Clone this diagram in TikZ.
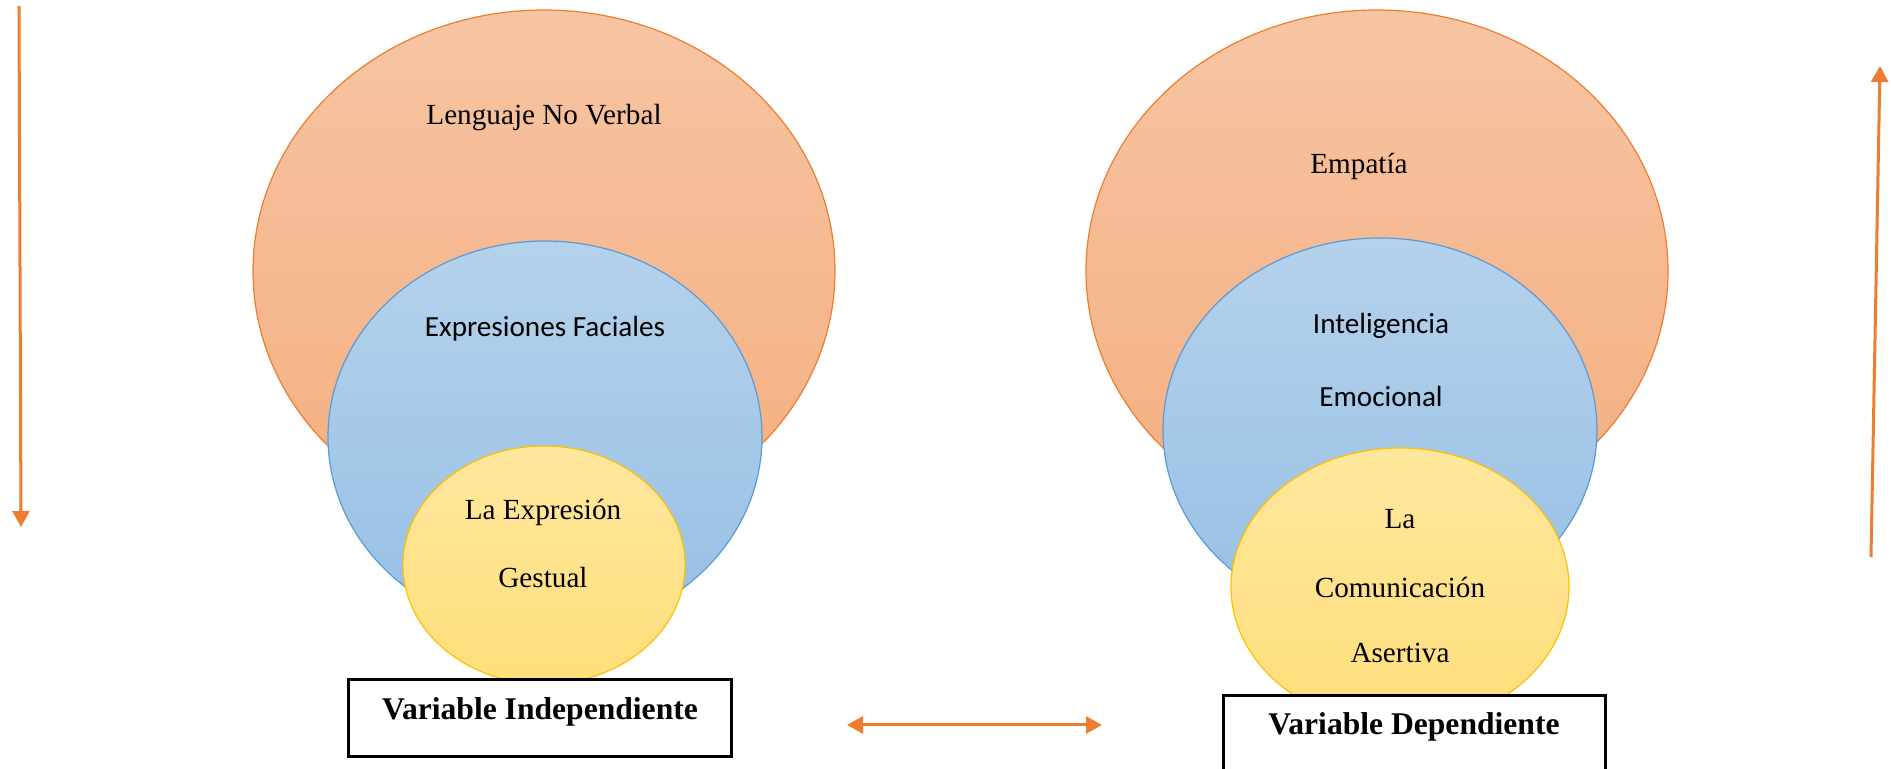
\documentclass[tikz,border=0pt]{standalone}
\usepackage{fontspec}
\setmainfont{Liberation Serif}
\newfontfamily\sansfam{Carlito}
\usetikzlibrary{shapes.geometric,arrows.meta}
\definecolor{naranja}{HTML}{ED7D31}
\definecolor{azul}{HTML}{5B9BD5}
\definecolor{oro}{HTML}{FFC000}
\tikzset{>={Triangle[length=8pt,width=8.5pt]}}

\begin{document}
\begin{tikzpicture}[x=0.5pt,y=-0.5pt,
    grande/.style={ellipse,inner sep=0pt,draw=naranja,line width=0.6pt,top color=naranja!45!white,bottom color=naranja!62!white},
    medio/.style={ellipse,inner sep=0pt,draw=azul,line width=0.6pt,top color=azul!45!white,bottom color=azul!64!white},
    chico/.style={ellipse,inner sep=0pt,draw=oro,line width=0.6pt,top color=oro!38!white,bottom color=oro!52!white},
    caja/.style={draw=black,line width=1.5pt,fill=white},
    texto/.style={font=\fontsize{14.6}{18}\selectfont},
    textosans/.style={font=\sansfam\fontsize{14.6}{18}\selectfont},
    titulo/.style={font=\bfseries\fontsize{15.8}{18}\selectfont},
    flecha/.style={->,draw=naranja,line width=1.5pt}]
    \useasboundingbox (0,0) rectangle (1891,769);
    % variable independiente
    \node[grande,minimum width=291pt,minimum height=261pt] (lnv) at (544,271) {};
    \node[medio,minimum width=217pt,minimum height=196pt] (ef) at (545,437) {};
    \node[chico,minimum width=141pt,minimum height=119pt] (eg) at (544,565) {};
    \node[texto] (lnvt) at (544,118) {Lenguaje No Verbal};
    \node[textosans] (eft) at (545,329) {Expresiones Faciales};
    \node[texto] (egt1) at (543,512) {La Expresión};
    \node[texto] (egt2) at (543,578) {Gestual};
    \draw[caja] (348,680) rectangle (731,757);
    \node[titulo] (vi) at (540,712) {Variable Independiente};
    % variable dependiente
    \node[grande,minimum width=291pt,minimum height=261pt] (emp) at (1377,271) {};
    \node[medio,minimum width=217pt,minimum height=192pt] (ie) at (1380,430) {};
    \node[chico,minimum width=169pt,minimum height=139pt] (ca) at (1400,587) {};
    \node[texto] (empt) at (1359,166) {Empatía};
    \node[textosans] (iet1) at (1381,326) {Inteligencia};
    \node[textosans] (iet2) at (1381,396) {Emocional};
    \node[texto] (cat1) at (1400,519) {La};
    \node[texto] (cat2) at (1400,587) {Comunicación};
    \node[texto] (cat3) at (1400,653) {Asertiva};
    \draw[caja] (1223,696) rectangle (1605,780);
    \node[titulo] (vd) at (1414,727) {Variable Dependiente};
    % flechas
    \coordinate (a1) at (19,6);
    \coordinate (a2) at (21,527);
    \coordinate (b1) at (1871,557);
    \coordinate (b2) at (1880,66);
    \coordinate (c1) at (847,725);
    \coordinate (c2) at (1102,725);
    \draw[flecha] (a1) -- (a2);
    \draw[flecha] (b1) -- (b2);
    \draw[flecha,<->] (c1) -- (c2);
\end{tikzpicture}
\end{document}
